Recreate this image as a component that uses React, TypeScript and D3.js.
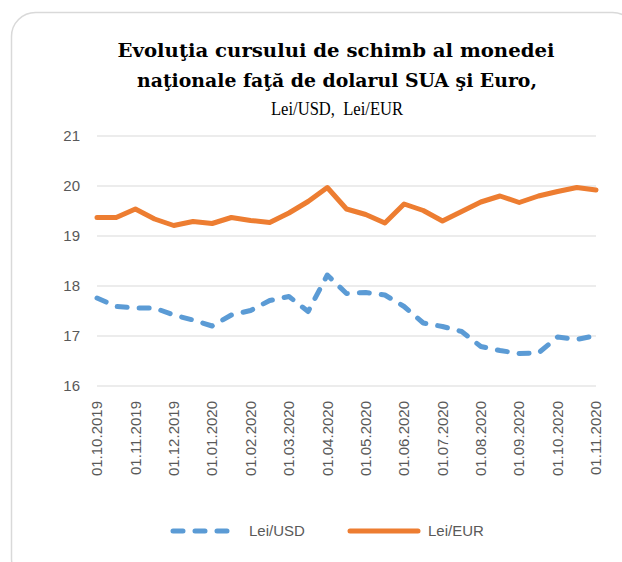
import React from 'react';
import * as d3 from 'd3';

// month labels on the x axis
const monthLabels = [
  '01.10.2019', '01.11.2019', '01.12.2019', '01.01.2020', '01.02.2020',
  '01.03.2020', '01.04.2020', '01.05.2020', '01.06.2020', '01.07.2020',
  '01.08.2020', '01.09.2020', '01.10.2020', '01.11.2020',
];

// two observations per month (1st and ~15th)
const usd = [
  17.76, 17.59, 17.56, 17.56, 17.42, 17.32, 17.2, 17.42, 17.51, 17.71,
  17.79, 17.49, 18.22, 17.85, 17.87, 17.82, 17.59, 17.26, 17.19, 17.09,
  16.79, 16.71, 16.65, 16.66, 16.98, 16.93, 17.01,
];
const eur = [
  19.37, 19.37, 19.54, 19.34, 19.21, 19.29, 19.25, 19.37, 19.31, 19.27,
  19.46, 19.69, 19.97, 19.54, 19.43, 19.26, 19.64, 19.51, 19.3, 19.49,
  19.68, 19.8, 19.67, 19.8, 19.89, 19.97, 19.92,
];
const yTicks = [16, 17, 18, 19, 20, 21];

const W = 622;
const H = 562;

export default function App() {
  const x = d3.scaleLinear().domain([0, usd.length - 1]).range([97, 596]);
  const y = d3.scaleLinear().domain([16, 21]).range([386, 136]);

  const line = d3.line<number>()
    .x((d, i) => x(i))
    .y(d => y(d));

  const sans = 'Liberation Sans, Arial, sans-serif';
  const serif = 'DejaVu Serif, serif';

  return (
    <svg width={W} height={H} style={{ position: 'absolute', left: 0, top: 0 }}>
      <rect x={0} y={0} width={W} height={H} fill="#fff" />
      <rect x={11.5} y={12.5} width={625} height={570} rx={24} fill="#fff" stroke="#d9d9d9" strokeWidth={1.5} />

      <g fontFamily={serif} fill="#000" textAnchor="middle">
        <text x={336} y={57} fontSize={18} fontWeight="bold" textLength={437} lengthAdjust="spacingAndGlyphs">Evoluţia cursului de schimb al monedei</text>
        <text x={337} y={87} fontSize={18} fontWeight="bold" textLength={400} lengthAdjust="spacingAndGlyphs">naţionale faţă de dolarul SUA şi Euro,</text>
        <text x={337} y={115} fontSize={19} fontFamily="Liberation Serif, serif" textLength={132} lengthAdjust="spacingAndGlyphs" style={{ whiteSpace: 'pre' }}>Lei/USD,  Lei/EUR</text>
      </g>

      {yTicks.map(t => (
        <g key={t}>
          <line x1={97} x2={596} y1={y(t)} y2={y(t)} stroke="#d9d9d9" strokeWidth={1.2} />
          <text x={80} y={y(t)} dy="0.35em" textAnchor="end" fontFamily={sans} fontSize={15} fill="#595959">{t}</text>
        </g>
      ))}

      {monthLabels.map((m, i) => (
        <text key={m} transform={`translate(${x(i * 2)},401) rotate(-90)`} dy="0.35em" textAnchor="end"
          fontFamily={sans} fontSize={15} fill="#595959">{m}</text>
      ))}

      <path d={line(eur) || ''} fill="none" stroke="#ed7d31" strokeWidth={5} strokeLinejoin="round" strokeLinecap="round" />
      <path d={line(usd) || ''} fill="none" stroke="#5b9bd5" strokeWidth={5} strokeDasharray="10 12" strokeLinejoin="round" strokeLinecap="round" />

      <g fontFamily={sans} fontSize={15} fill="#595959">
        <line x1={173} x2={233} y1={531} y2={531} stroke="#5b9bd5" strokeWidth={5} strokeDasharray="10 12" strokeLinecap="round" />
        <text x={249} y={531} dy="0.35em">Lei/USD</text>
        <line x1={350} x2={418} y1={531} y2={531} stroke="#ed7d31" strokeWidth={5} strokeLinecap="round" />
        <text x={428} y={531} dy="0.35em">Lei/EUR</text>
      </g>
    </svg>
  );
}
